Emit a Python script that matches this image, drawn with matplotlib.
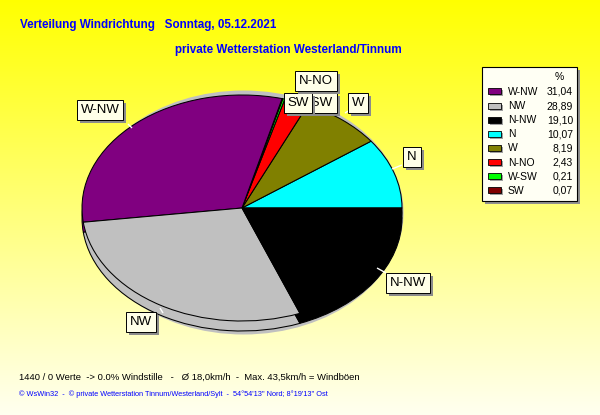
import numpy as np
import matplotlib
matplotlib.use('Agg')
import matplotlib.pyplot as plt
from matplotlib.patches import Ellipse, Rectangle

# ---------------- data ----------------
directions = ['W-NW', 'NW', 'N-NW', 'N', 'W', 'N-NO', 'W-SW', 'SW']
percent = [31.04, 28.89, 19.10, 10.07, 8.19, 2.43, 0.21, 0.07]
percent_text = ['31,04', '28,89', '19,10', '10,07', '8,19', '2,43', '0,21', '0,07']
slice_colors = ['#800080', '#c0c0c0', '#000000', '#00ffff', '#808000',
                '#ff0000', '#00ff00', '#800000']
pie_order = ['N', 'W', 'N-NO', 'W-SW', 'SW', 'W-NW', 'NW', 'N-NW']

title_1 = 'Verteilung Windrichtung   Sonntag, 05.12.2021'
title_2 = 'private Wetterstation Westerland/Tinnum'
footer_1 = '1440 / 0 Werte  -> 0.0% Windstille   -   \u00d8 18,0km/h  -  Max. 43,5km/h = Windb\u00f6en'
footer_2 = "\u00a9 WsWin32  -  \u00a9 private Wetterstation Tinnum/Westerland/Sylt  -  54\u00b054'13'' Nord; 8\u00b019'13'' Ost"

# ---------------- layout (pixels) ----------------
W, H = 600, 415
CX, CY, RX, RY = 242, 208, 160, 113
DEPTH = 10
label_pos = {'W-NW': (100, 110), 'N-NO': (316, 81), 'W-SW': (314, 103),
             'SW': (298, 103), 'W': (358, 103), 'N': (412, 157),
             'N-NW': (408, 283), 'NW': (141, 322)}
label_draw_order = ['W-NW', 'NW', 'N-NW', 'N', 'W', 'W-SW', 'SW', 'N-NO']
leaders = {'W-NW': ((128, 124), (132, 128)), 'N': ((392, 169), (402, 165)),
           'N-NW': ((377, 268), (386, 273)), 'NW': ((160, 308), (163, 313)),
           'W': ((345, 113), (350, 110))}

FONT = 'Liberation Sans'

fig = plt.figure(figsize=(W / 100, H / 100), dpi=100)

# background gradient
ax_bg = fig.add_axes([0, 0, 1, 1])
grad = np.linspace(0, 1, 256)[:, None]
top = np.array([1.0, 1.0, 0.0])
bot = np.array([1.0, 1.0, 0.94])
img = top[None, None, :] * (1 - grad[..., None]) + bot[None, None, :] * grad[..., None]
img = np.repeat(img, 2, axis=1)
ax_bg.imshow(img, aspect='auto', extent=(0, W, H, 0))
ax_bg.set_xlim(0, W)
ax_bg.set_ylim(H, 0)
ax_bg.axis('off')

# pie axes
ax = fig.add_axes([0, 0, 1, 1])
ax.patch.set_alpha(0)
idx = [directions.index(d) for d in pie_order]
vals = [percent[i] for i in idx]
cols = [slice_colors[i] for i in idx]

shadow = Ellipse((0.01, -4.5 / RY), 2 * 160 / RX, 2 * 122 / RY,
                 facecolor='#c0c0c0', edgecolor='none', zorder=0)
ax.add_patch(shadow)
wp = dict(edgecolor='black', linewidth=0.75)
ax.pie(vals, colors=cols, startangle=0, counterclock=True,
       center=(0, -DEPTH / RY), wedgeprops=wp, normalize=True)
ax.pie(vals, colors=cols, startangle=0, counterclock=True,
       center=(0, 0), wedgeprops=wp, normalize=True)
ax.set_aspect('auto')
ax.set_xlim(-CX / RX, (W - CX) / RX)
ax.set_ylim(-(H - CY) / RY, CY / RY)
ax.axis('off')

# overlay in pixel coordinates
ov = fig.add_axes([0, 0, 1, 1])
ov.patch.set_alpha(0)
ov.set_xlim(0, W)
ov.set_ylim(H, 0)
ov.axis('off')

# leader lines
for k, ((x0, y0), (x1, y1)) in leaders.items():
    ov.plot([x0, x1], [y0, y1], color='white', lw=1, solid_capstyle='butt')

# slice labels
label_texts = []
for n, name in enumerate(label_draw_order):
    x, y = label_pos[name]
    z = 5 + n
    t = ov.text(x, y, name, fontsize=9.5, family=FONT, color='black',
                ha='center', va='center', zorder=z + 0.5,
                bbox=dict(boxstyle='square,pad=0.28', fc='#ffffe8', ec='black', lw=0.7))
    label_texts.append((t, z))

fig.canvas.draw()
inv = ov.transData.inverted()
for t, z in label_texts:
    bb = t.get_bbox_patch().get_window_extent()
    (x0, y0), (x1, y1) = inv.transform([(bb.x0, bb.y0), (bb.x1, bb.y1)])
    xl, xr = min(x0, x1), max(x0, x1)
    yt, yb = min(y0, y1), max(y0, y1)
    ov.add_patch(Rectangle((xl + 3, yt + 3), xr - xl, yb - yt,
                           fc='#8c8c8c', ec='none', zorder=z))

# legend box
ov.add_patch(Rectangle((485, 70), 95, 134, fc='#909090', ec='none', zorder=20))
ov.add_patch(Rectangle((482, 67), 95, 134, fc='#fffff4', ec='black', lw=0.8, zorder=21))
ov.text(559, 77, '%', fontsize=7.5, family=FONT, ha='center', va='center', zorder=22)
for i, (d, c, t) in enumerate(zip(directions, slice_colors, percent_text)):
    y = 92 + 14.1 * i
    ov.add_patch(Rectangle((490, y - 1.5), 13, 6, fc='#a0a0a0', ec='none', zorder=22))
    ov.add_patch(Rectangle((488, y - 3.5), 13, 6, fc=c, ec='black', lw=0.6, zorder=23))
    ov.text(508, y, d, fontsize=7.5, family=FONT, ha='left', va='center', zorder=23)
    ov.text(573, y, t, fontsize=7.5, family=FONT, ha='right', va='center', zorder=23)

# titles
ov.text(20, 25, title_1, fontsize=8.4, family=FONT, fontweight='bold',
        color='#0000ff', ha='left', va='center')
ov.text(175, 50, title_2, fontsize=8.4, family=FONT, fontweight='bold',
        color='#0000ff', ha='left', va='center')
ov.text(19, 377, footer_1, fontsize=6.8, family=FONT, color='black',
        ha='left', va='center')
ov.text(19, 394, footer_2, fontsize=5.3, family=FONT, color='#0000ff',
        ha='left', va='center')

fig.savefig('out.png', dpi=100)
